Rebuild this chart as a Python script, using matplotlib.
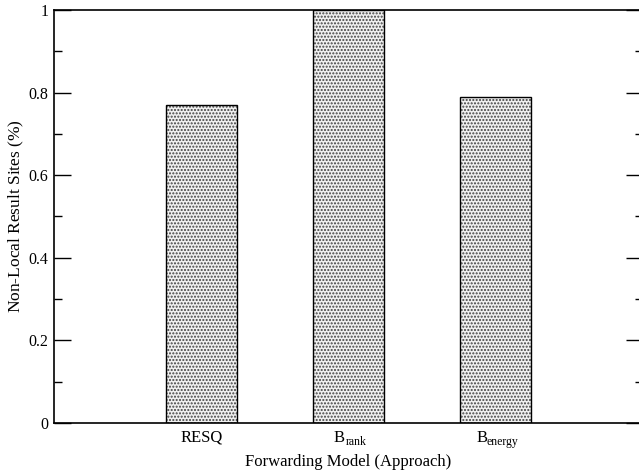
import matplotlib
matplotlib.use("Agg")
import matplotlib.pyplot as plt
from matplotlib.ticker import MultipleLocator
from matplotlib.transforms import ScaledTranslation

plt.rcParams['font.family'] = ['Liberation Serif', 'DejaVu Serif']
plt.rcParams['mathtext.fontset'] = 'custom'
plt.rcParams['mathtext.rm'] = 'Liberation Serif'
plt.rcParams['mathtext.it'] = 'Liberation Serif:italic'
plt.rcParams['hatch.linewidth'] = 1.0

approaches = ["RESQ", "B", "B"]
subscripts = [None, "rank", "energy"]
positions = [1, 2, 3]
non_local = [0.77, 1.0, 0.79]

fig = plt.figure(figsize=(6.39, 4.73), dpi=100)
ax = fig.add_axes([54 / 639, 50 / 473, 589 / 639, 413 / 473])

# dotted fill first, then black outline on top
ax.bar(positions, non_local, width=0.48, color='#f0f0f0', edgecolor='#404040',
       hatch='.....', linewidth=0)
ax.bar(positions, non_local, width=0.48, fill=False, edgecolor='black', linewidth=1.0)

ax.set_xlim(0, 4)
ax.set_ylim(0, 1)
ax.set_xticks(positions)
ax.set_xticklabels(approaches, fontsize=12)
ax.tick_params(axis='x', length=0, pad=5)

# shift the "B" labels left so B + subscript is centred under the bar
b_shift = [0, -9.5, -14]
sub_start = [0, -3, -9]
for lab, dx in zip(ax.get_xticklabels(), b_shift):
    lab.set_transform(lab.get_transform() + ScaledTranslation(dx / 100, 0, fig.dpi_scale_trans))
for pos, sub, sx in zip(positions, subscripts, sub_start):
    if sub is None:
        continue
    ax.annotate(sub, xy=(pos, 0), xycoords=('data', 'axes fraction'),
                xytext=(sx * 0.72, -15.5), textcoords='offset points',
                ha='left', va='baseline', fontsize=8.5, annotation_clip=False)

ax.yaxis.set_major_locator(MultipleLocator(0.2))
ax.yaxis.set_minor_locator(MultipleLocator(0.1))
ax.set_yticks([0, 0.2, 0.4, 0.6, 0.8, 1])
ax.set_yticklabels(["0", "0.2", "0.4", "0.6", "0.8", "1"])
ax.tick_params(axis='y', which='major', direction='in', length=12, width=1,
               left=True, right=True, labelsize=11.5, pad=4)
ax.tick_params(axis='y', which='minor', direction='in', length=6, width=1,
               left=True, right=True)
for s in ax.spines.values():
    s.set_linewidth(1.2)

ax.set_xlabel("Forwarding Model (Approach)", fontsize=12, labelpad=6)
ax.set_ylabel(r"Non-Local Result Sites ($\mathit{\%}$)", fontsize=12.5, labelpad=2)

fig.savefig("out.png", dpi=100)
